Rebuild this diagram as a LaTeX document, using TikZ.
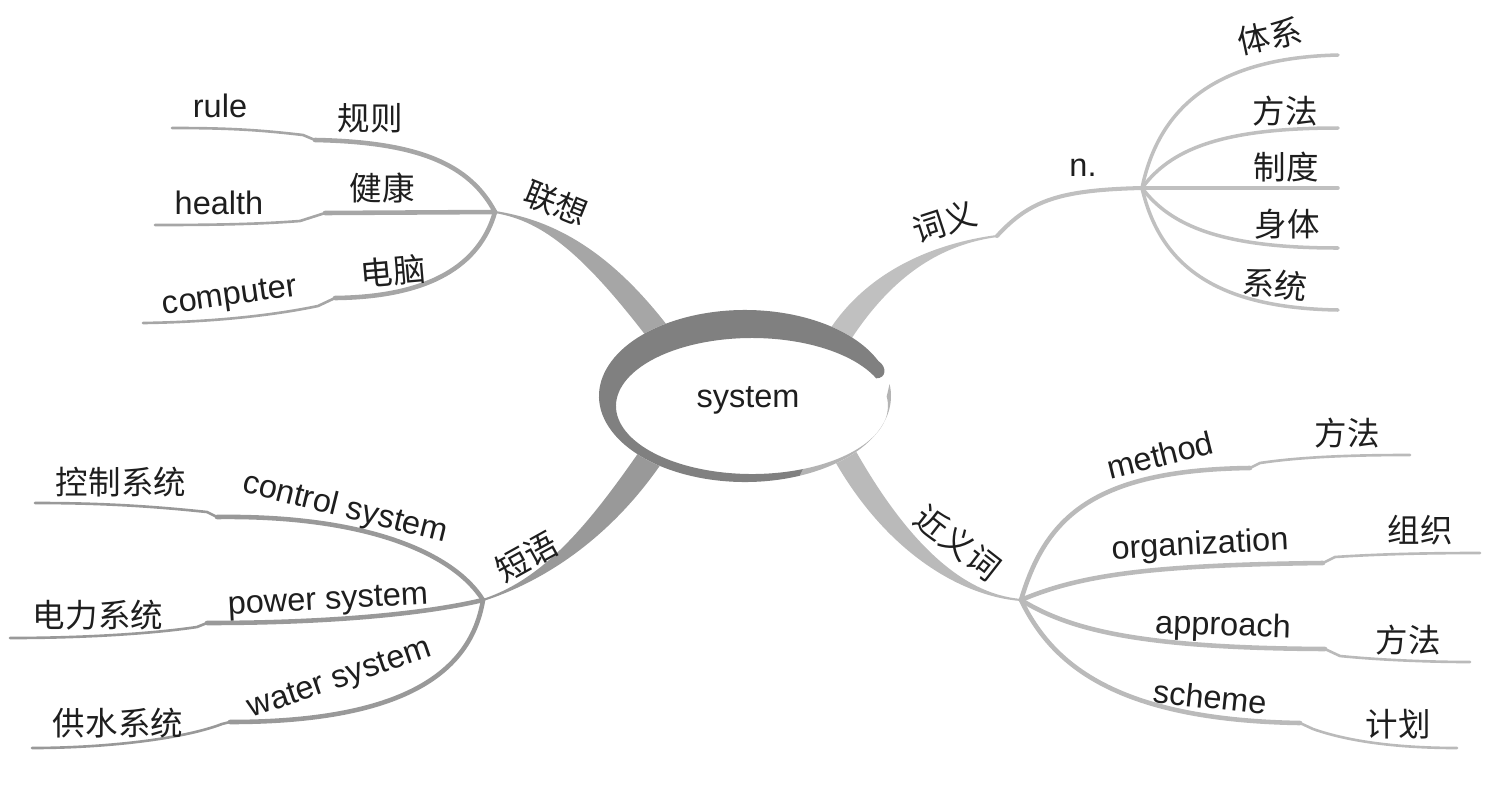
\documentclass[tikz,border=0pt]{standalone}
\usepackage{fontspec}
\setmainfont{Liberation Sans}
\newfontfamily\cjk{Noto Sans CJK SC}
\usepackage{tikz}
\usetikzlibrary{calc,positioning}
\definecolor{AssocGray}{HTML}{A6A6A6}
\definecolor{MeanGray}{HTML}{C0C0C0}
\definecolor{PhraseGray}{HTML}{999999}
\definecolor{SynGray}{HTML}{BABABA}
\definecolor{RingGray}{HTML}{808080}
\definecolor{RimGray}{HTML}{B4B4B4}
\definecolor{InkGray}{HTML}{1E1E1E}

% tapered trunk: colour, hub, ctrl 1, ctrl 2, ring end, half width
\newcommand\trunk[6]{%
  \filldraw[#1, line width=1.2pt] (#2) .. controls (#3) and ($(#4)!#6!-90:(#5)$) .. ($(#5)!#6!90:(#4)$)
    -- ($(#5)!#6!-90:(#4)$) .. controls ($(#4)!#6!90:(#5)$) and (#3) .. (#2) -- cycle;}

\begin{document}
\begin{tikzpicture}[x=0.02cm, y=0.02cm,
  en/.style={font=\fontsize{18.5}{22}\selectfont, text=InkGray, inner sep=0pt},
  zh/.style={font=\cjk\fontsize{18.5}{22}\selectfont, text=InkGray, inner sep=0pt},
  stem/.style={draw=#1, line width=2.6pt, line cap=round},
  twig/.style={draw=#1, line width=1.5pt, line cap=round},
  fine/.style={draw=#1, line width=2pt, line cap=round}
]
  \useasboundingbox (0,0) rectangle (1492,-802);

  % hubs
  \coordinate (core) at (745,-396);
  \coordinate (assoc) at (495,-212);
  \coordinate (mean) at (997,-236);
  \coordinate (noun) at (1142,-188);
  \coordinate (phrase) at (483,-600);
  \coordinate (syn) at (1021,-600);

  % trunks
  \trunk{AssocGray}{assoc}{545,-220}{595,-250}{660,-335}{6pt}
  \trunk{MeanGray}{mean}{930,-245}{875,-280}{838,-338}{6pt}
  \trunk{PhraseGray}{phrase}{545,-580}{600,-530}{650,-458}{6.5pt}
  \trunk{SynGray}{syn}{960,-595}{895,-545}{843,-452}{6pt}

  % 联想
  \draw[stem=AssocGray] (assoc) .. controls (470,-165) and (420,-142) .. (315,-140) coordinate (rule-a);
  \draw[twig=AssocGray] (rule-a) -- (303,-135) .. controls (260,-130) and (230,-128) .. (172,-128) coordinate (rule-b);
  \draw[stem=AssocGray] (assoc) -- (325,-213) coordinate (health-a);
  \draw[twig=AssocGray] (health-a) -- (300,-221) .. controls (260,-224) and (220,-225) .. (155,-225) coordinate (health-b);
  \draw[stem=AssocGray] (assoc) .. controls (480,-265) and (430,-297) .. (335,-298) coordinate (comp-a);
  \draw[twig=AssocGray] (comp-a) -- (318,-306) .. controls (270,-316) and (210,-322) .. (143,-323) coordinate (comp-b);

  % 词义
  \draw[fine=MeanGray, line width=2.3pt] (mean) .. controls (1030,-200) and (1060,-190) .. (noun);
  \draw[fine=MeanGray] (noun) .. controls (1158,-112) and (1210,-58) .. (1338,-55) coordinate (tixi);
  \draw[fine=MeanGray] (noun) .. controls (1170,-150) and (1220,-128) .. (1338,-128) coordinate (fangfa);
  \draw[fine=MeanGray] (noun) -- (1338,-188) coordinate (zhidu);
  \draw[fine=MeanGray] (noun) .. controls (1170,-225) and (1220,-248) .. (1338,-248) coordinate (shenti);
  \draw[fine=MeanGray] (noun) .. controls (1160,-265) and (1215,-308) .. (1338,-310) coordinate (xitong);

  % 短语
  \draw[stem=PhraseGray] (phrase) .. controls (455,-555) and (370,-515) .. (217,-517) coordinate (ctrl-a);
  \draw[twig=PhraseGray] (ctrl-a) -- (207,-512) .. controls (150,-506) and (100,-503) .. (35,-503) coordinate (ctrl-b);
  \draw[stem=PhraseGray] (phrase) .. controls (420,-615) and (320,-623) .. (207,-623) coordinate (power-a);
  \draw[twig=PhraseGray] (power-a) -- (197,-627) .. controls (150,-634) and (80,-638) .. (10,-638) coordinate (power-b);
  \draw[stem=PhraseGray] (phrase) .. controls (470,-680) and (390,-722) .. (230,-722) coordinate (water-a);
  \draw[twig=PhraseGray] (water-a) -- (222,-724) .. controls (180,-740) and (100,-748) .. (32,-748) coordinate (water-b);

  % 近义词
  \draw[stem=SynGray] (syn) .. controls (1045,-520) and (1090,-470) .. (1250,-468) coordinate (meth-a);
  \draw[twig=SynGray] (meth-a) -- (1260,-463) .. controls (1300,-457) and (1350,-455) .. (1410,-455) coordinate (meth-b);
  \draw[stem=SynGray] (syn) .. controls (1080,-575) and (1150,-565) .. (1323,-563) coordinate (org-a);
  \draw[twig=SynGray] (org-a) -- (1335,-557) .. controls (1380,-554) and (1430,-553) .. (1480,-553) coordinate (org-b);
  \draw[stem=SynGray] (syn) .. controls (1070,-630) and (1140,-648) .. (1325,-649) coordinate (appr-a);
  \draw[twig=SynGray] (appr-a) -- (1340,-656) .. controls (1380,-660) and (1430,-662) .. (1470,-662) coordinate (appr-b);
  \draw[stem=SynGray] (syn) .. controls (1050,-660) and (1110,-720) .. (1300,-723) coordinate (sch-a);
  \draw[twig=SynGray] (sch-a) -- (1313,-729) .. controls (1350,-742) and (1400,-748) .. (1457,-748) coordinate (sch-b);

  % centre
  \fill[white] (core) ellipse [x radius=146, y radius=86];
  \fill[RimGray] ($(core)+(292:146 and 86)$) arc[start angle=292, end angle=368, x radius=146, y radius=86]
    -- ($(752,-406)+(8:136 and 68)$) arc[start angle=8, end angle=-68, x radius=136, y radius=68] -- cycle;
  \fill[RingGray] ($(core)+(24:146 and 86)$) arc[start angle=24, end angle=292, x radius=146, y radius=86]
    -- ($(752,-406)+(292:136 and 68)$) arc[start angle=292, end angle=24, x radius=136, y radius=68]
    .. controls +(10,0) and +(9,-6) .. ($(core)+(24:146 and 86)$) -- cycle;
  \node[en] (sys) at (748,-400) {system};

  % labels
  \node[zh, rotate=-22] (assoc-l) at (556,-203) {联想};
  \node[en] (rule) at (220,-106) {rule};
  \node[zh] (rule-zh) at (370,-118) {规则};
  \node[en] (health) at (219,-203) {health};
  \node[zh] (health-zh) at (382,-188) {健康};
  \node[en, rotate=8] (computer) at (230,-298) {computer};
  \node[zh, rotate=5] (computer-zh) at (393,-271) {电脑};

  \node[zh, rotate=18] (mean-l) at (945,-222) {词义};
  \node[en] (noun-l) at (1083,-168) {n.};
  \node[zh, rotate=12] (tixi-l) at (1270,-36) {体系};
  \node[zh] (fangfa-l) at (1285,-111) {方法};
  \node[zh] (zhidu-l) at (1286,-167) {制度};
  \node[zh] (shenti-l) at (1287,-224) {身体};
  \node[zh, rotate=-6] (xitong-l) at (1275,-284) {系统};

  \node[zh, rotate=29] (phrase-l) at (527,-557) {短语};
  \node[zh] (ctrl-zh) at (121,-482) {控制系统};
  \node[en, rotate=-14] (ctrl) at (345,-509) {control system};
  \node[zh] (power-zh) at (98,-615) {电力系统};
  \node[en, rotate=3] (power) at (328,-602) {power system};
  \node[zh] (water-zh) at (118,-723) {供水系统};
  \node[en, rotate=19] (water) at (340,-680) {water system};

  \node[zh, rotate=-38] (syn-l) at (958,-543) {近义词};
  \node[en, rotate=14] (method) at (1160,-455) {method};
  \node[zh] (method-zh) at (1347,-433) {方法};
  \node[en, rotate=3] (org) at (1200,-546) {organization};
  \node[zh] (org-zh) at (1420,-530) {组织};
  \node[en, rotate=-2] (appr) at (1223,-627) {approach};
  \node[zh] (appr-zh) at (1408,-640) {方法};
  \node[en, rotate=-6] (scheme) at (1210,-697) {scheme};
  \node[zh] (scheme-zh) at (1398,-724) {计划};
\end{tikzpicture}
\end{document}
